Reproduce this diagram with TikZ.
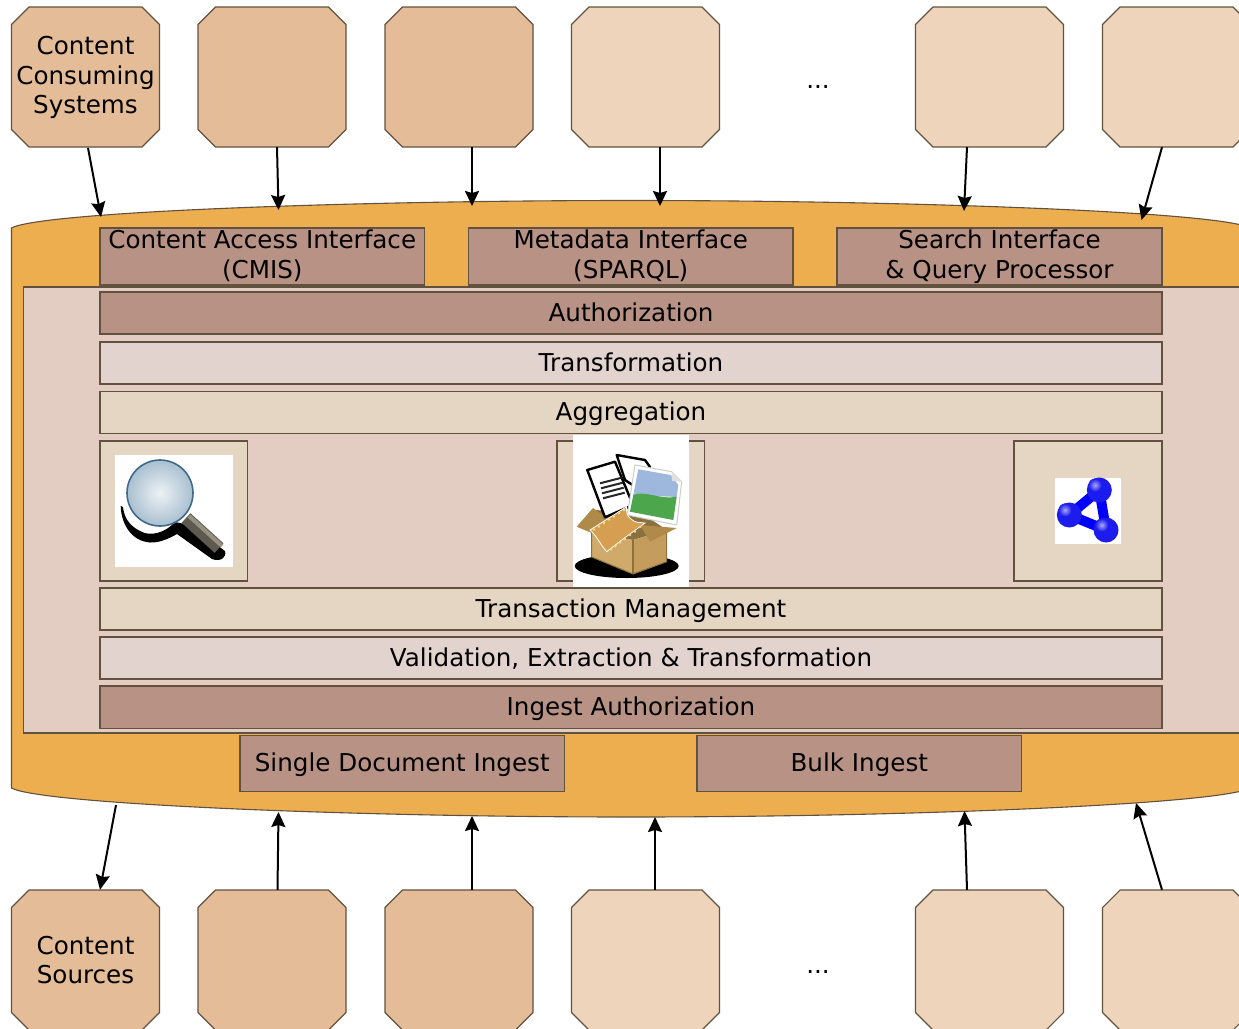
\documentclass[tikz,border=0pt]{standalone}
\usepackage{fontspec}
\setmainfont{DejaVu Sans}
\usetikzlibrary{arrows.meta}
\definecolor{hubc}{HTML}{EDAE4F}
\definecolor{innerc}{HTML}{E3CDC3}
\definecolor{darkc}{HTML}{B89385}
\definecolor{midc}{HTML}{E2D3CF}
\definecolor{tanc}{HTML}{E5D5C3}
\definecolor{sysa}{HTML}{E4BD98}
\definecolor{sysb}{HTML}{EED4BB}
\definecolor{edgec}{HTML}{63513F}
\definecolor{lensin}{HTML}{EDF2F5}
\definecolor{lensout}{HTML}{A9BFD0}
\definecolor{lensedge}{HTML}{3F6A8C}
\definecolor{handlea}{HTML}{5E5A50}
\definecolor{handleb}{HTML}{96927F}
\definecolor{boxl}{HTML}{CFAA6B}
\definecolor{boxr}{HTML}{C49C5C}
\definecolor{boxe}{HTML}{8B7040}
\definecolor{flapc}{HTML}{B08A48}
\definecolor{filmc}{HTML}{D69E50}
\definecolor{filmd}{HTML}{F4DC8A}
\definecolor{skyc}{HTML}{9DB8DC}
\definecolor{grassc}{HTML}{4CA64C}
\definecolor{ballc}{HTML}{1C1CEE}
\definecolor{ballh}{HTML}{A8A8F4}
\newcommand{\sysshape}[3]{%
  \filldraw[fill=#3,draw=edgec,line width=1.1pt]
   (#1-74,#2-52.5) -- (#1-56.5,#2-70) -- (#1+56.5,#2-70) -- (#1+74,#2-52.5)
   -- (#1+74,#2+52.5) -- (#1+56.5,#2+70) -- (#1-56.5,#2+70) -- (#1-74,#2+52.5) -- cycle;}
\newcommand{\st}{\rule[-5pt]{0pt}{26.6pt}}
\newcommand{\sd}{\rule[-6pt]{0pt}{25.6pt}}
\tikzset{
  lbl/.style={font=\fontsize{24.6}{29.5}\selectfont,align=center,text=black,inner sep=0pt},
  two/.style={font=\fontsize{24.6}{30}\selectfont},
  sysbox/.style={lbl,rectangle,minimum width=148pt,minimum height=140pt},
  flat/.style={lbl,draw=edgec,line width=1.1pt,rectangle},
  conn/.style={line width=2pt,-{Stealth[length=15pt,width=14pt,inset=2pt]}},
  hubshape/.style={fill=hubc,draw=edgec,line width=1.1pt},
  doc/.style={fill=white,draw=black,line width=2.4pt,line join=round}
}
\begin{document}
\begin{tikzpicture}[x=1pt,y=-1pt]
\useasboundingbox (0,0) rectangle (1239,1028);
\clip (0,0) rectangle (1239,1028);
% hub
\draw[hubshape] (11.5,228) .. controls (40,212) and (350,200.5) .. (631,200.5)
  .. controls (912,200.5) and (1222,212) .. (1250,228) -- (1250,788)
  .. controls (1222,804) and (912,817) .. (631,817)
  .. controls (350,817) and (40,804) .. (11.5,788) -- cycle;
\coordinate (h1) at (101,217);
\coordinate (h2) at (278.5,210);
\coordinate (h3) at (472,206);
\coordinate (h4) at (660,206);
\coordinate (h5) at (964,211);
\coordinate (h6) at (1141.5,220);
\coordinate (g1) at (116,805);
\coordinate (g2) at (278.5,812);
\coordinate (g3) at (472,816);
\coordinate (g4) at (655,817);
\coordinate (g5) at (964.5,811);
\coordinate (g6) at (1136,803);
% inner
\node[flat,fill=innerc,minimum width=1300pt,minimum height=446pt] (inner) at (673.5,510) {};
% top interfaces
\node[flat,two,fill=darkc,minimum width=324.5pt,minimum height=57pt] (cmis) at (262.25,256.5) {\sd Content Access Interface\\\sd(CMIS)};
\node[flat,two,fill=darkc,minimum width=324.5pt,minimum height=57pt] (meta) at (630.75,256.5) {\sd Metadata Interface\\\sd(SPARQL)};
\node[flat,two,fill=darkc,minimum width=325pt,minimum height=57pt] (search) at (999.5,256.5) {\sd Search Interface\\\sd\& Query Processor};
% layers
\node[flat,fill=darkc,minimum width=1062pt,minimum height=42pt] (authz) at (631,313) {\st Authorization};
\node[flat,fill=midc,minimum width=1062pt,minimum height=42pt] (transf) at (631,363) {\st Transformation};
\node[flat,fill=tanc,minimum width=1062pt,minimum height=42pt] (aggr) at (631,412.5) {\st Aggregation};
\node[flat,fill=tanc,minimum width=147.5pt,minimum height=140pt] (rs1) at (173.75,511) {};
\node[flat,fill=tanc,minimum width=147.5pt,minimum height=140pt] (rs2) at (630.75,511) {};
\node[flat,fill=tanc,minimum width=148pt,minimum height=140pt] (rs3) at (1088,511) {};
\node[flat,fill=tanc,minimum width=1062pt,minimum height=42pt] (trans) at (631,609) {\st Transaction Management};
\node[flat,fill=midc,minimum width=1062pt,minimum height=42pt] (valid) at (631,658) {\st Validation, Extraction \& Transformation};
\node[flat,fill=darkc,minimum width=1062pt,minimum height=42.5pt] (ingest) at (631,707.25) {\st Ingest Authorization};
\node[flat,fill=darkc,minimum width=324.5pt,minimum height=56pt] (single) at (402.25,763.5) {\st Single Document Ingest};
\node[flat,fill=darkc,minimum width=324.5pt,minimum height=56pt] (bulk) at (859.25,763.5) {\st Bulk Ingest};
% magnifier icon
\fill[white] (115,455) rectangle (233,567);
\fill[black] (120.7,506) .. controls (121,522) and (130,541) .. (150,542.5)
  .. controls (160,543) and (170,538) .. (177,534) -- (212,559)
  .. controls (220,562) and (227,558) .. (225,551) -- (190,525) -- (175,522)
  .. controls (165,533) and (150,537) .. (140,531)
  .. controls (128,525) and (124,516) .. (123,507) -- cycle;
\draw[line width=13pt,color=handlea] (186,518) -- (219,548);
\draw[line width=4pt,color=handleb] (189,516) -- (222,546);
\shade[inner color=lensin,outer color=lensout,draw=lensedge,line width=1.6pt] (160,493) circle (33);
% box icon
\fill[white] (573,434.5) rectangle (689,587);
\fill[black] (626.7,566) ellipse (52 and 12);
\draw[doc] (616.7,455) -- (645,460) -- (650,467) -- (640,490) -- (625,480) -- cycle;
\fill[boxe] (593,510) -- (591.7,533) -- (633,540) -- (666.7,530) -- (640,512) -- cycle;
\fill[flapc] (576.7,526.7) -- (593,508) -- (606.7,518) -- (591.7,533) -- cycle;
\draw[doc] (587.3,470) -- (615,461.7) -- (633,505) -- (605,517.3) -- cycle;
\foreach \k in {0,1,2,3} \draw[line width=2pt,black!85] (600+\k,483.3+5*\k) -- (621.7+\k,477.7+5*\k);
\fill[boxl] (591.7,533) -- (633,540) -- (633,574) -- (591.7,557) -- cycle;
\fill[boxr] (633,540) -- (666.7,530) -- (666.7,561.7) -- (633,574) -- cycle;
\draw[boxe,line width=1.8pt] (633,540) -- (633,574);
\draw[boxe,line width=1pt] (591.7,533) -- (591.7,557) -- (633,574) -- (666.7,561.7) -- (666.7,530);
\fill[flapc] (640,525) -- (676.7,528) -- (650,541.7) -- cycle;
\filldraw[fill=white,draw=black!20,line width=1pt,line join=round] (635,465) -- (671.7,471.7) -- (681.7,481.7) -- (676.7,525) -- (627.3,515) -- cycle;
\fill[skyc] (638.3,469.3) -- (670.7,475) -- (678.3,485) -- (676.7,497) -- (633.3,495) -- cycle;
\fill[grassc] (633.3,495) .. controls (645,490) and (660,500) .. (676.7,496.7) -- (673.3,520) -- (630,511.7) -- cycle;
\fill[black!12] (671.7,471.7) -- (681.7,481.7) -- (672,481) -- cycle;
\fill[filmc,draw=white,line width=0.8pt] (590,530) -- (626.7,506.7) .. controls (626,512) and (627,516) .. (630,518)
  .. controls (636,524) and (640,522) .. (645,523)
  -- (621.7,540) -- (606.7,551.7) .. controls (600,544) and (596,535) .. (590,530) -- cycle;
\foreach \a/\b in {594/529.5,599/526.5,604/523,609/519.5,614/516.5,619/513,624/510,611/549,615.5/546,620/542.5,625/539,630/535,635/531.5,640/527}
  \fill[filmd] (\a,\b) circle (1.3);
% graph icon
\fill[white] (1055,478) rectangle (1121,544);
\draw[line width=10pt,color=blue,line join=round] (1099.3,490) -- (1069.3,515) -- (1106,530) -- cycle;
\fill[ballc] (1099.3,490) circle (12.5);
\fill[ballc] (1069.3,515) circle (12.5);
\fill[ballc] (1106,530) circle (12.5);
\shade[inner color=ballh,outer color=ballc] (1095,485) circle (6.5);
\shade[inner color=ballh,outer color=ballc] (1065,510) circle (6.5);
\shade[inner color=ballh,outer color=ballc] (1101.7,525) circle (6.5);
% top systems
\sysshape{85.5}{77}{sysa}
\sysshape{272}{77}{sysa}
\sysshape{459}{77}{sysa}
\sysshape{645.5}{77}{sysb}
\sysshape{989.5}{77}{sysb}
\sysshape{1176.5}{77}{sysb}
\node[sysbox] (t1) at (85.5,77.7) {Content\\Consuming\\Systems};
\node[sysbox] (t2) at (272,77) {};
\node[sysbox] (t3) at (459,77) {};
\node[sysbox] (t4) at (645.5,77) {};
\node[sysbox] (t5) at (989.5,77) {};
\node[sysbox] (t6) at (1176.5,77) {};
\node[lbl] (dotsa) at (818,87) {...};
% bottom systems
\sysshape{85.5}{960}{sysa}
\sysshape{272}{960}{sysa}
\sysshape{459}{960}{sysa}
\sysshape{645.5}{960}{sysb}
\sysshape{989.5}{960}{sysb}
\sysshape{1176.5}{960}{sysb}
\node[sysbox] (b1) at (85.5,960) {Content\\Sources};
\node[sysbox] (b2) at (272,960) {};
\node[sysbox] (b3) at (459,960) {};
\node[sysbox] (b4) at (645.5,960) {};
\node[sysbox] (b5) at (989.5,960) {};
\node[sysbox] (b6) at (1176.5,960) {};
\node[lbl] (dotsb) at (818,972) {...};
% connectors
\draw[conn] ([xshift=2.5pt]t1.south) -- (h1);
\draw[conn] ([xshift=5pt]t2.south) -- (h2);
\draw[conn] ([xshift=13pt]t3.south) -- (h3);
\draw[conn] ([xshift=14.5pt]t4.south) -- (h4);
\draw[conn] ([xshift=-22.5pt]t5.south) -- (h5);
\draw[conn] ([xshift=-14.5pt]t6.south) -- (h6);
\draw[conn] (g1) -- ([xshift=14.5pt]b1.north);
\draw[conn] ([xshift=5.5pt]b2.north) -- (g2);
\draw[conn] ([xshift=13pt]b3.north) -- (g3);
\draw[conn] ([xshift=9.5pt]b4.north) -- (g4);
\draw[conn] ([xshift=-22.5pt]b5.north) -- (g5);
\draw[conn] ([xshift=-14.5pt]b6.north) -- (g6);
\end{tikzpicture}
\end{document}
